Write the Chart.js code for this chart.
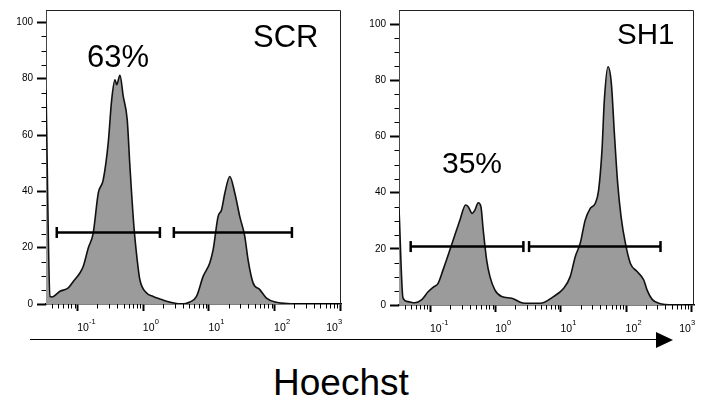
<!DOCTYPE html>
<html>
<head>
<meta charset="utf-8">
<title>Hoechst histograms</title>
<script src="https://cdn.jsdelivr.net/npm/chart.js@4.4.0/dist/chart.umd.min.js"></script>
<style>
    body { margin: 0; background: #fff; }
    #wrap {
        position: relative;
        width: 702px;
        height: 402px;
        overflow: hidden;
        background: #fff;
        font-family: "Liberation Sans", Arial, sans-serif;
        color: #000;
    }
    #wrap canvas { position: absolute; top: 0; }
    #scrChart { left: 0; }
    #sh1Chart { left: 353px; }
    .lbl { position: absolute; line-height: 1; white-space: nowrap; }
    #arrowLine {
        position: absolute; left: 30px; top: 339px;
        width: 628px; height: 0; border-top: 1.5px solid #000;
    }
    #arrowHead {
        position: absolute; left: 656px; top: 332px; width: 0; height: 0;
        border-top: 8px solid transparent;
        border-bottom: 8px solid transparent;
        border-left: 17px solid #000;
    }
</style>
</head>
<body>
<div id="wrap">
    <canvas id="scrChart" width="352" height="332"></canvas>
    <canvas id="sh1Chart" width="352" height="332"></canvas>

    <div class="lbl" style="left:253px; top:21px; font-size:31px;">SCR</div>
    <div class="lbl" style="left:87px; top:40.5px; font-size:31px;">63%</div>
    <div class="lbl" style="left:617px; top:19px; font-size:29.5px;">SH1</div>
    <div class="lbl" style="left:442px; top:148px; font-size:30px;">35%</div>

    <div id="arrowLine"></div>
    <div id="arrowHead"></div>
    <div class="lbl" style="left:273px; top:363.5px; font-size:37px;">Hoechst</div>
</div>

<script>
// axis ticks
const xMajorTicks = [0.1, 1, 10, 100, 1000];
const xMinorSteps = [2, 3, 4, 5, 6, 7, 8, 9];
const yMajorTicks = [0, 20, 40, 60, 80, 100];
const yMinorTicks = [5, 10, 15, 25, 30, 35, 45, 50, 55, 65, 70, 75, 85, 90, 95];

// SCR histogram (Hoechst intensity, cell count)
const scrX = [0.0329, 0.0379, 0.0402, 0.0538, 0.0719, 0.0857, 0.108, 0.1217, 0.145, 0.1725,
    0.206, 0.245, 0.292, 0.3296, 0.370, 0.393, 0.441, 0.495, 0.569, 0.625,
    0.719, 0.807, 0.887, 1.122, 1.415, 1.79, 2.26, 3.21, 3.83, 5.12,
    6.47, 8.16, 10.3, 11.6, 13.8, 15.6, 17.5, 20.8, 24.8, 29.5,
    35.2, 39.5, 47.1, 59.6, 75.3, 107, 191];
const scrY = [76, 2.7, 2.5, 4.5, 5.7, 8, 11, 13.4, 19.9, 25.2,
    39.4, 44.1, 57.2, 72.5, 79.6, 77.9, 81.2, 73.7, 65.4, 49,
    27.6, 15.7, 8.6, 3.9, 2.7, 1.8, 1.0, 0.2, 0, 0.7,
    2.7, 9.8, 14.6, 19.3, 31.1, 33.5, 39.4, 45.3, 39.4, 31.1,
    24, 15.7, 7.5, 5.1, 2.1, 0.6, 0];
const scrGates = [[0.048, 1.79], [2.92, 184]];
const scrGateLevel = 25.4;

// SH1 histogram
const sh1X = [0.0329, 0.0379, 0.0452, 0.0573, 0.0727, 0.0919, 0.1096, 0.131, 0.156, 0.176,
    0.198, 0.2365, 0.2825, 0.3455, 0.379, 0.4365, 0.480, 0.540, 0.594, 0.644,
    0.727, 0.817, 0.975, 1.236, 1.762, 2.51, 3.17, 4.80, 7.69, 10.96,
    13.9, 16.6, 19.8, 23.6, 28.2, 33.7, 37.9, 42.7, 46.4, 52.8,
    59.4, 66.1, 74.3, 83.8, 97.5, 116.4, 147.6, 186.6, 210, 251,
    317, 540, 769];
const sh1Y = [34.4, 2.5, 1.2, 0.8, 1.8, 4.7, 6.3, 7.7, 12.5, 16,
    19.6, 24.9, 30.2, 35.6, 35, 32.6, 33.8, 36.4, 35, 26.7,
    16, 10.1, 5.3, 3, 2.4, 0.8, 0.6, 0.6, 3, 5.9,
    10.1, 17.2, 22, 30.2, 34.4, 36.2, 40.9, 55.2, 73, 84.8,
    78.9, 61.1, 43.3, 31.4, 22, 14.8, 11.9, 8.9, 5.3, 2,
    0.6, 0, 0.1];
const sh1Gates = [[0.0497, 2.66], [3.25, 337]];
const sh1GateLevel = 20.8;

const FONT = '"Liberation Sans", Arial, sans-serif';

// frame, minor ticks and 10^n labels
const axisDecor = {
    id: 'axisDecor',
    afterDraw(chart) {
        const ctx = chart.ctx;
        const a = chart.chartArea;
        const xs = chart.scales.x;
        const ys = chart.scales.y;
        ctx.save();

        ctx.strokeStyle = '#222';
        ctx.lineWidth = 1;
        ctx.beginPath();
        ctx.moveTo(a.left, a.top + 0.5);
        ctx.lineTo(a.right - 0.5, a.top + 0.5);
        ctx.lineTo(a.right - 0.5, a.bottom);
        ctx.stroke();

        ctx.strokeStyle = '#000';
        ctx.beginPath();
        yMinorTicks.forEach(v => {
            const py = Math.round(ys.getPixelForValue(v)) + 0.5;
            ctx.moveTo(a.left - 4.5, py);
            ctx.lineTo(a.left, py);
        });
        xMajorTicks.forEach(d => {
            xMinorSteps.forEach(m => {
                const v = d * m / 10;
                if (v <= xs.min || v >= xs.max) return;
                const px = Math.round(xs.getPixelForValue(v)) + 0.5;
                ctx.moveTo(px, a.bottom);
                ctx.lineTo(px, a.bottom + 4.5);
            });
        });
        ctx.stroke();

        ctx.fillStyle = '#000';
        ctx.textAlign = 'left';
        ctx.textBaseline = 'alphabetic';
        xMajorTicks.forEach(v => {
            const px = xs.getPixelForValue(v);
            const exp = String(Math.round(Math.log10(v)));
            ctx.font = '10.5px ' + FONT;
            const bw = ctx.measureText('10').width;
            ctx.font = '7.5px ' + FONT;
            const ew = ctx.measureText(exp).width;
            let x0 = px - 0.5;
            if (x0 + bw + ew > a.right + 1) {
                x0 = a.right + 1 - bw - ew;
            }
            ctx.font = '10.5px ' + FONT;
            ctx.fillText('10', x0, a.bottom + 27);
            ctx.font = '7.5px ' + FONT;
            ctx.fillText(exp, x0 + bw + 0.2, a.bottom + 20);
        });

        ctx.restore();
    }
};

function makeHistogram(canvasId, xs, ys, gates, gateLevel, cfg) {
    const curve = xs.map((x, i) => ({ x: x, y: ys[i] }));
    const gateSets = gates.map(g => ({
        data: [{ x: g[0], y: gateLevel }, { x: g[1], y: gateLevel }],
        borderColor: '#000',
        borderWidth: 2.5,
        pointStyle: 'line',
        pointRotation: 90,
        pointRadius: 5.5,
        pointBorderWidth: 2.5,
        pointBorderColor: '#000',
        fill: false,
        tension: 0,
        order: 1,
        clip: false
    }));

    return new Chart(document.getElementById(canvasId), {
        type: 'line',
        data: {
            datasets: [{
                data: curve,
                borderColor: '#111',
                borderWidth: 1.6,
                backgroundColor: '#9b9b9b',
                fill: 'origin',
                pointRadius: 0,
                cubicInterpolationMode: 'monotone',
                order: 2
            }, ...gateSets]
        },
        options: {
            responsive: false,
            animation: false,
            events: [],
            layout: { padding: { top: 10, right: cfg.padRight, left: 0, bottom: 0 } },
            plugins: {
                legend: { display: false },
                tooltip: { enabled: false }
            },
            scales: {
                x: {
                    type: 'logarithmic',
                    min: cfg.xMin,
                    max: cfg.xMax,
                    bounds: 'data',
                    afterBuildTicks: s => { s.ticks = xMajorTicks.map(v => ({ value: v, major: true })); },
                    afterFit: s => { s.height = cfg.xAxisHeight; },
                    ticks: { display: false },
                    grid: { drawOnChartArea: false, tickLength: 7, tickWidth: 2, tickColor: '#000' },
                    border: { color: '#000', width: 1.5 }
                },
                y: {
                    type: 'linear',
                    min: 0,
                    max: cfg.yMax,
                    afterBuildTicks: s => { s.ticks = yMajorTicks.map(v => ({ value: v })); },
                    afterFit: s => { s.width = 46; },
                    ticks: { padding: 4, color: '#000', font: { family: FONT, size: 10 } },
                    grid: { drawOnChartArea: false, tickLength: 9, tickWidth: 2, tickColor: '#000' },
                    border: { color: '#444', width: 1 }
                }
            }
        },
        plugins: [axisDecor]
    });
}

makeHistogram('scrChart', scrX, scrY, scrGates, scrGateLevel,
    { xMin: 0.0329, xMax: 1030, yMax: 104.4, xAxisHeight: 28, padRight: 11 });
makeHistogram('sh1Chart', sh1X, sh1Y, sh1Gates, sh1GateLevel,
    { xMin: 0.0329, xMax: 1100, yMax: 105, xAxisHeight: 27, padRight: 11 });
</script>
</body>
</html>
